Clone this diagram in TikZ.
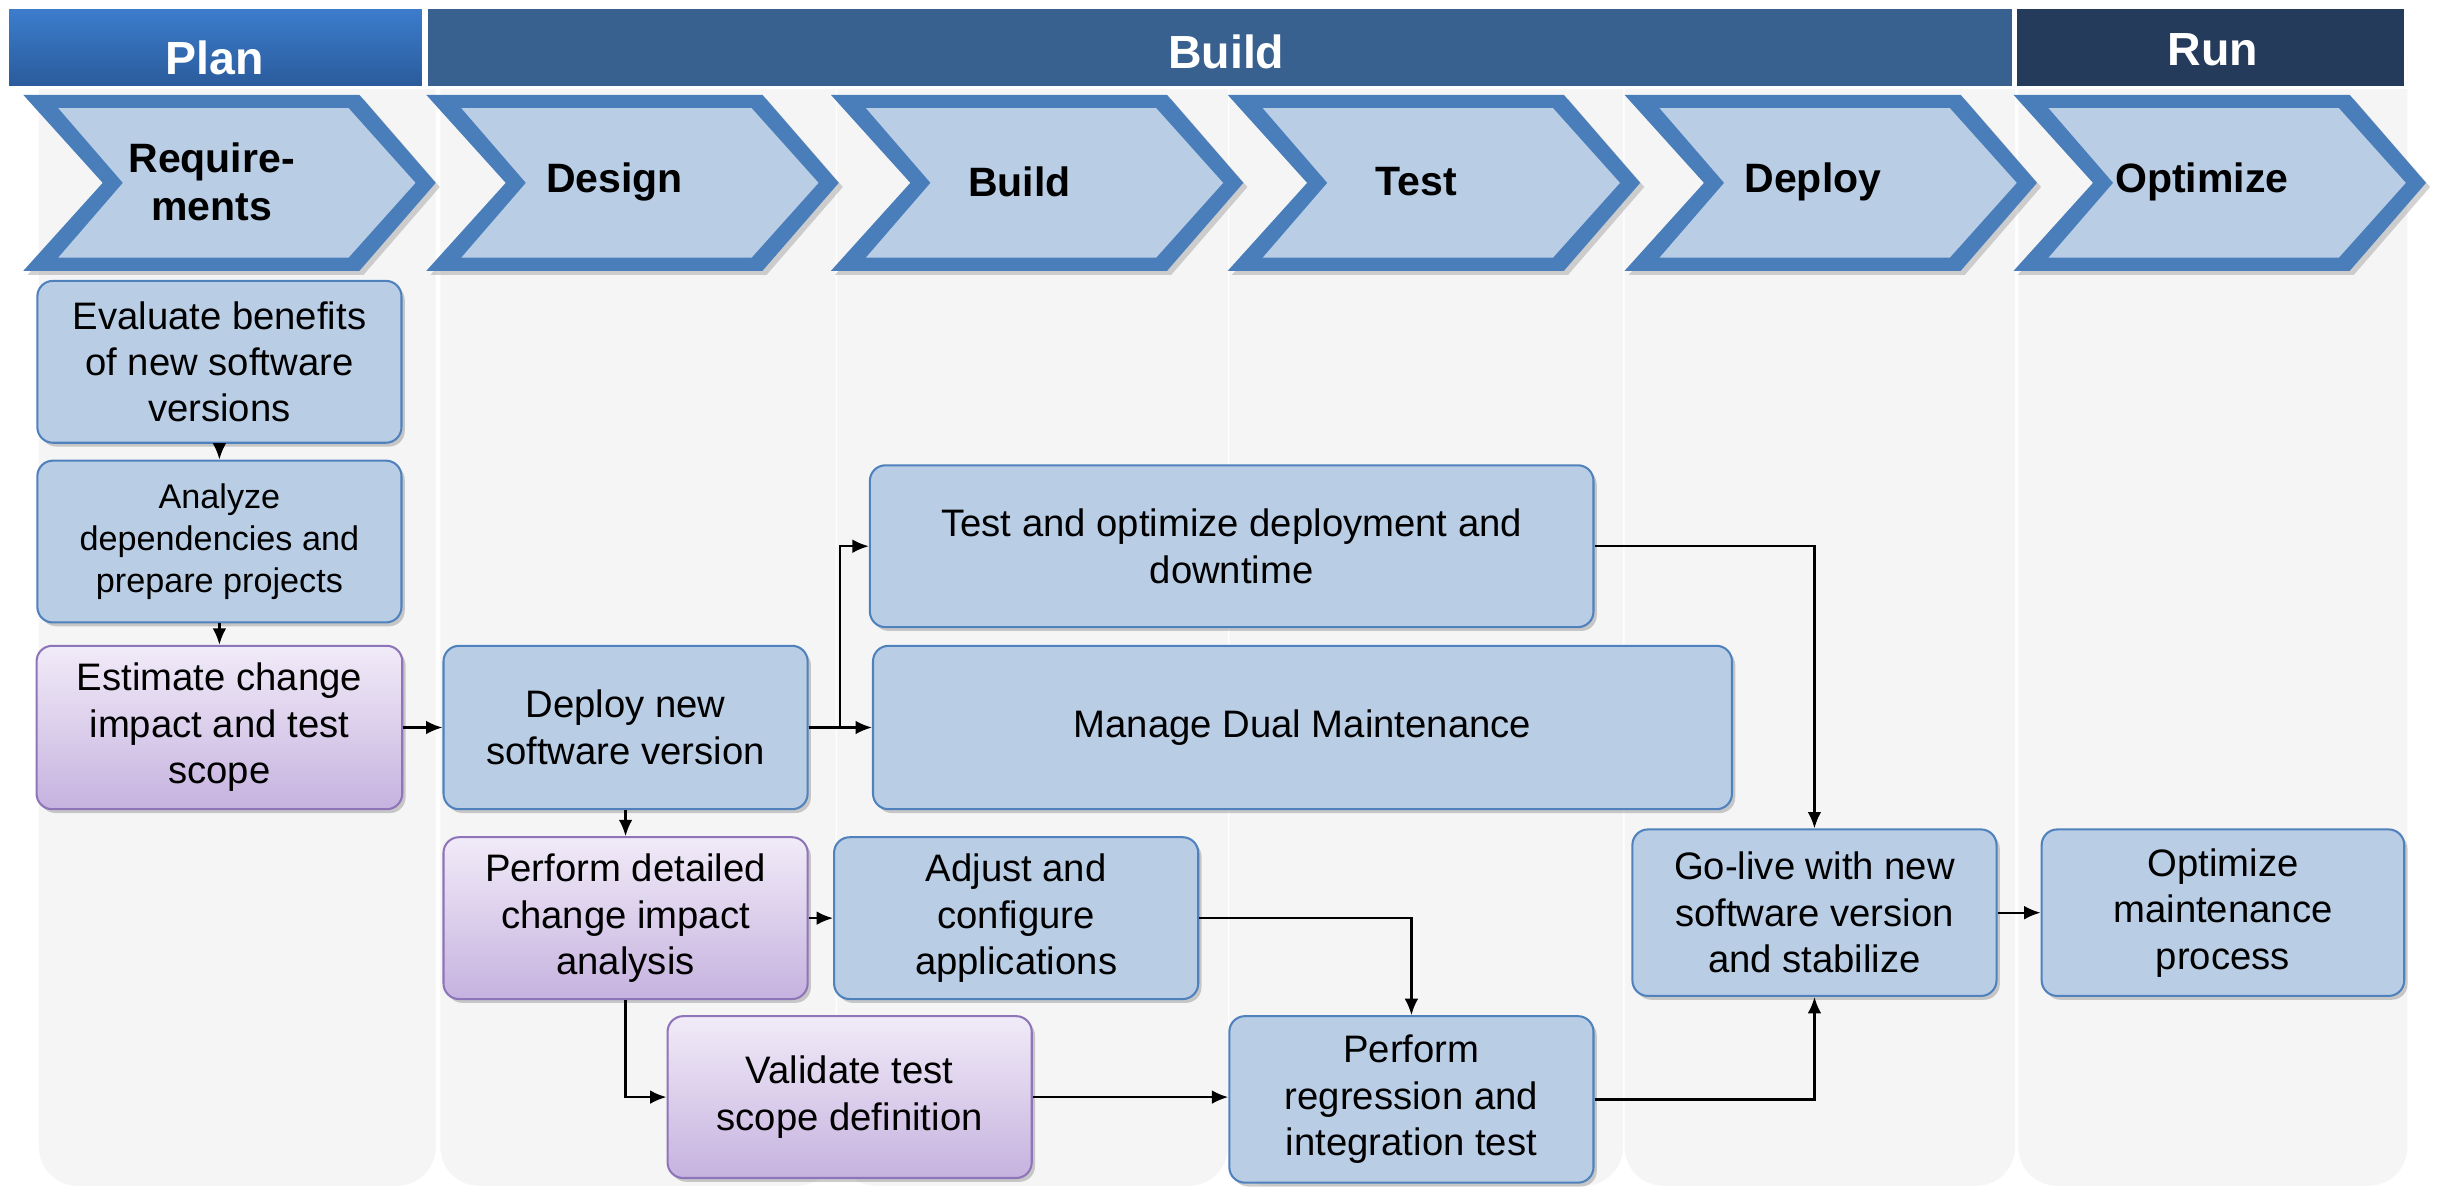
\documentclass[tikz,border=0pt]{standalone}
\usepackage{fontspec}
\setmainfont{Liberation Sans}
\usetikzlibrary{arrows.meta,shadows}
\definecolor{boxfill}{HTML}{B9CDE5}
\definecolor{boxline}{HTML}{4F81BD}
\definecolor{chevline}{HTML}{4A7EBB}
\definecolor{purpline}{HTML}{8E74B8}
\definecolor{purptop}{HTML}{F1EBF8}
\definecolor{purpbot}{HTML}{C6B2DF}
\definecolor{plantop}{HTML}{3C7DCD}
\definecolor{planbot}{HTML}{2A5B9B}
\definecolor{buildhdr}{HTML}{38618F}
\definecolor{runhdr}{HTML}{243B5C}
\definecolor{colgray}{HTML}{F5F5F5}

\begin{document}
\begin{tikzpicture}[
    colbg/.style={fill=colgray, rounded corners=0.5cm},
    hdrtext/.style={text=white, anchor=base, font=\bfseries\fontsize{17}{20}\selectfont},
    chevtext/.style={align=center, font=\bfseries\fontsize{15}{17.6}\selectfont},
    taskbox/.style={draw=boxline, fill=boxfill, rounded corners=0.2cm, line width=0.75pt,
        align=center, minimum width=4.68cm, minimum height=2.08cm, inner sep=2pt,
        font=\fontsize{14}{17}\selectfont,
        drop shadow={shadow xshift=1.2pt, shadow yshift=-1.4pt, opacity=0.4}},
    reviewbox/.style={taskbox, draw=purpline, top color=purptop, bottom color=purpbot},
    flow/.style={-{Latex[length=6pt,width=5pt]}, line width=0.85pt}
  ]
      \useasboundingbox (0,0) rectangle (31.36,-15.26);
      \fill [white] (0,0) rectangle (31.36,-15.26);

      % gray columns behind the phases
      \foreach \a/\b in {0.50/5.60, 5.66/10.74, 10.76/15.78, 15.80/20.86, 20.88/25.90, 25.94/30.94}
        \fill [colbg] (\a,-0.30) rectangle (\b,-15.24);

      % header bar
      \draw [white,line width=1.2pt,top color=plantop,bottom color=planbot] (0.10,-0.10) rectangle (5.44,-1.12);
      \draw [white,line width=1.2pt,fill=buildhdr] (5.48,-0.10) rectangle (25.88,-1.12);
      \draw [white,line width=1.2pt,fill=runhdr] (25.90,-0.10) rectangle (30.92,-1.12);
      \node [hdrtext] (plan) at (2.76,-0.96) {Plan};
      \node [hdrtext] (build) at (15.76,-0.88) {Build};
      \node [hdrtext] (run) at (28.44,-0.84) {Run};

      % phase chevrons
      \foreach \x/\name/\txt in {0.30/chreq/{Require-\\ments}, 5.48/chdesign/Design, 10.68/chbuild/Build,
                                 15.78/chtest/Test, 20.88/chdeploy/Deploy, 25.88/chopt/Optimize} {
        \fill [chevline, drop shadow={shadow xshift=1.5pt, shadow yshift=-1.5pt, opacity=0.35}]
          (\x,-1.22) -- ++(4.32,0) -- ++(0.98,-1.13) -- ++(-0.98,-1.13) -- ++(-4.32,0) -- ++(1.02,1.13) -- cycle;
        \fill [boxfill] (\x+0.45,-1.39) -- (\x+4.18,-1.39) -- (\x+5.04,-2.35) -- (\x+4.18,-3.31)
          -- (\x+0.45,-3.31) -- (\x+1.28,-2.35) -- cycle;
        \node [chevtext] (\name) at (\x+2.42,-2.34) {\txt};
      }

      % tasks
      \node [taskbox] (eval) at (2.82,-4.65) {Evaluate benefits\\of new software\\versions};
      \node [taskbox, font=\fontsize{12.5}{15.5}\selectfont] (analyze) at (2.82,-6.96) {Analyze\\dependencies and\\prepare projects};
      \node [reviewbox, minimum width=4.70cm, minimum height=2.10cm] (estimate) at (2.82,-9.35) {Estimate change\\impact and test\\scope};
      \node [taskbox, minimum height=2.10cm] (deploynew) at (8.04,-9.35) {Deploy new\\software version};
      \node [reviewbox] (detail) at (8.04,-11.80) {Perform detailed\\change impact\\analysis};
      \node [taskbox] (adjust) at (13.06,-11.80) {Adjust and\\configure\\applications};
      \node [reviewbox] (validate) at (10.92,-14.10) {Validate test\\scope definition};
      \node [taskbox, minimum width=9.30cm] (testopt) at (15.83,-7.02) {Test and optimize deployment and\\downtime};
      \node [taskbox, minimum width=11.04cm, minimum height=2.10cm] (dual) at (16.74,-9.35) {Manage Dual Maintenance};
      \node [taskbox, minimum height=2.14cm] (regress) at (18.14,-14.13) {Perform\\regression and\\integration test};
      \node [taskbox, minimum height=2.14cm] (golive) at (23.32,-11.73) {Go-live with new\\software version\\and stabilize};
      \node [taskbox, minimum width=4.66cm, minimum height=2.14cm] (optmaint) at (28.57,-11.73) {Optimize\\maintenance\\process};

      % flow
      \draw [flow] (eval) -- (analyze);
      \draw [flow] (analyze) -- (estimate);
      \draw [flow] (estimate) -- (deploynew);
      \draw [flow] (deploynew) -- (detail);
      \draw [flow] (deploynew) -- (dual);
      \draw [flow] (deploynew.east) -- ++(0.40,0) |- (testopt.west);
      \draw [flow] (detail) -- (adjust);
      \draw [flow] (detail.south) |- (validate.west);
      \draw [flow] (adjust.east) -| (regress.north);
      \draw [flow] (validate.east) -- (validate.east -| regress.west);
      \draw [flow] (testopt.east) -| (golive.north);
      \draw [flow] (regress.east) -| (golive.south);
      \draw [flow] (golive) -- (optmaint);
\end{tikzpicture}
\end{document}
